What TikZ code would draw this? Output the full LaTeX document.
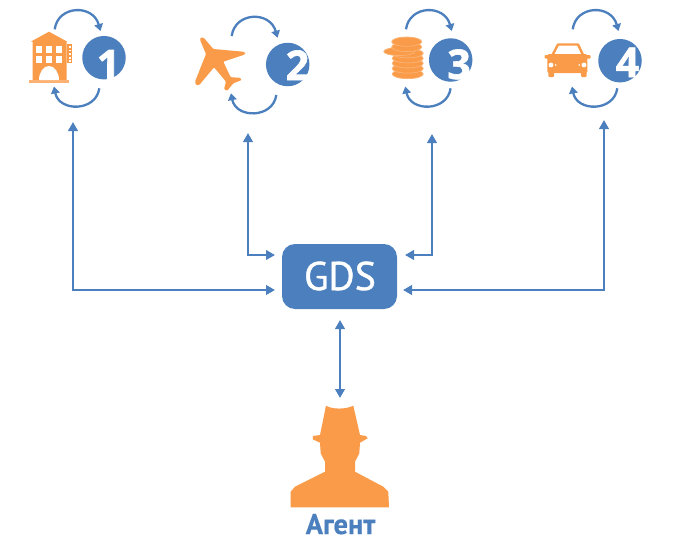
\documentclass[tikz,border=0pt]{standalone}
\usepackage{fontspec}
\setmainfont{Open Sans}
\newfontfamily\labelfont[FakeBold=1]{PT Sans}
\newfontfamily\agentfont[FakeBold=0.5]{PT Sans}
\newfontfamily\digitfont[FakeBold=1.5]{Open Sans}
\usetikzlibrary{arrows.meta,calc}
\definecolor{bluemain}{HTML}{4B7FBD}
\definecolor{orangemain}{HTML}{F99B48}
\definecolor{orangelight}{HTML}{FCB272}
\tikzset{
  x=1pt,y=-1pt,
  link/.style={draw=bluemain,line width=2.3pt,{Triangle[length=9pt,width=9.5pt]}-{Triangle[length=9pt,width=9.5pt]}},
  cyclearrow/.style={draw=bluemain,line width=2.3pt,-{Triangle[length=7pt,width=8.5pt]}},
  numdisc/.style={circle,fill=bluemain,minimum size=43.5pt,inner sep=0pt},
  digit/.style={anchor=base,inner sep=0pt,text=white,font=\digitfont\fontsize{41}{41}\bfseries\selectfont},
  icon/.style={fill=orangemain,draw=none},
  hole/.style={fill=white,draw=none},
  coin/.style={fill=orangemain,draw=orangelight,line width=.8pt},
}
\newcommand\cyclepair[3]{%
  \begin{scope}[shift={(#2,#3)}]
    \coordinate (#1ta) at (54.7,29.3);
    \coordinate (#1tb) at (100.5,31);
    \coordinate (#1ba) at (99.3,88.3);
    \coordinate (#1bb) at (54,86.5);
    \draw[cyclearrow] (#1ta) .. controls (58,5) and (93,4) .. (#1tb);
    \draw[cyclearrow] (#1ba) .. controls (96,112) and (59,112) .. (#1bb);
  \end{scope}}
\begin{document}
\begin{tikzpicture}
\useasboundingbox (0,0) rectangle (680,549);

% hotel
\fill[icon] (30.7,41.7) -- (49,31.7) -- (67.3,41.7) -- (66.7,41.7) -- (66.7,80) -- (32.7,80) -- (32.7,41.7) -- cycle;
\fill[orangelight] (29,80) rectangle (69.3,83.3);
\foreach \wx in {36,46,56}
  \foreach \wy in {46,55.7}
    \fill[hole] (\wx,\wy) rectangle +(6.3,7);
\fill[hole] (39,80) arc[start angle=180,end angle=360,x radius=10,y radius=14] -- cycle;
\fill[icon] (67.3,44.3) rectangle (72.3,63.3);
\foreach \wy in {46,49.6,53.2,56.8,60.4}
  \fill[hole] (68.8,\wy) rectangle +(2,1.8);

% plane
\fill[icon,rounded corners=1pt] (200.7,37.3) -- (204,38) -- (213.3,49) -- (243.3,51.7) -- (246,53.3) -- (243.3,55) -- (223.3,61.7) -- (230.7,77.3) -- (240,77.7) -- (241.7,80) -- (233.3,83.3) -- (227.3,90.7) -- (224,89.3) -- (226,81.7) -- (214,67.3) -- (199.3,85) -- (196,85) -- (195,81.7) -- (206,54) -- (200,40) -- cycle;

% coins
\foreach \cy in {74,68.5,63.3,58.3,53.3}
  \draw[coin] (407.7,\cy) ellipse[x radius=15.5,y radius=4.6];
\draw[coin] (399.3,51.5) ellipse[x radius=15.5,y radius=4];
\foreach \cy in {47,41.7}
  \draw[coin] (406.7,\cy) ellipse[x radius=15,y radius=4.6];

% car
\fill[icon,rounded corners=1.5pt] (547.3,54) rectangle (587.3,73);
\fill[icon,rounded corners=1pt] (544.7,55) rectangle (550,58.5);
\fill[icon,rounded corners=1pt] (585,55) rectangle (590.7,58.5);
\fill[icon,rounded corners=1pt] (548.3,70) rectangle (554,77);
\fill[icon,rounded corners=1pt] (581,70) rectangle (586.7,77);
\draw[orangemain,line width=2.4pt,line join=round] (552.5,55) -- (558,44.5) -- (578,44.5) -- (583,55);
\fill[hole] (551,65) circle[radius=2.4];
\fill[hole] (584,65) circle[radius=2.4];
\fill[hole] (555.7,65) circle[radius=.9];
\fill[hole] (579.3,65) circle[radius=.9];

% discs and digits
\node[numdisc] (d1) at (104,57.7) {};
\node[numdisc] (d2) at (287.7,64.5) {};
\node[numdisc] (d3) at (450.7,60) {};
\node[numdisc] (d4) at (620,60.7) {};
\node[digit] (n1) at (108.5,79.3) {1};
\node[digit] (n2) at (297.5,80) {2};
\node[digit] (n3) at (459,79) {3};
\node[digit] (n4) at (627.5,77) {4};

\cyclepair{h}{0}{0}
\cyclepair{p}{177}{6.7}
\cyclepair{c}{351.3}{0}
\cyclepair{a}{518}{0}

% GDS
\node[fill=bluemain,rounded corners=13pt,minimum width=115pt,minimum height=65pt,inner sep=0pt] (gds) at (339.5,276.5) {};
\node[anchor=base,inner sep=0pt,text=white,font=\labelfont\fontsize{40}{40}\selectfont] (gdstext) at (340,290) {GDS};

% agent
\fill[icon] (326,405.7) .. controls (332,409.5) and (346,409.5) .. (353.3,405.7) -- (360,435) -- (366,436) -- (367.7,438.3) -- (360,442.7) -- (359.3,453.3) -- (355,461.7) -- (355,471.7) -- (383.3,486.7) -- (388.3,491.7) -- (389,507.3) -- (290.7,507.3) -- (290.7,491.7) -- (295,486.7) -- (325,471.7) -- (325,461.7) -- (320.7,453.3) -- (320,442.7) -- (312.7,439.3) -- (313,436) -- (320,435) -- cycle;
\node[anchor=base,inner sep=0pt,text=bluemain,font=\agentfont\fontsize{28.5}{28.5}\bfseries\selectfont] (agent) at (340.5,534) {Агент};

% connectors
\coordinate (t1) at (73,122);
\coordinate (t2) at (248,133);
\coordinate (t3) at (432,134);
\coordinate (t4) at (604,120);
\coordinate (g1) at (275,290);
\coordinate (g2) at (275,255);
\coordinate (g3) at (405,255);
\coordinate (g4) at (403,290);
\coordinate (gb) at (340,320);
\coordinate (at) at (340,398);
\draw[link] (t1) |- (g1);
\draw[link] (t2) |- (g2);
\draw[link] (t3) |- (g3);
\draw[link] (t4) |- (g4);
\draw[link] (gb) -- (at);
\end{tikzpicture}
\end{document}
